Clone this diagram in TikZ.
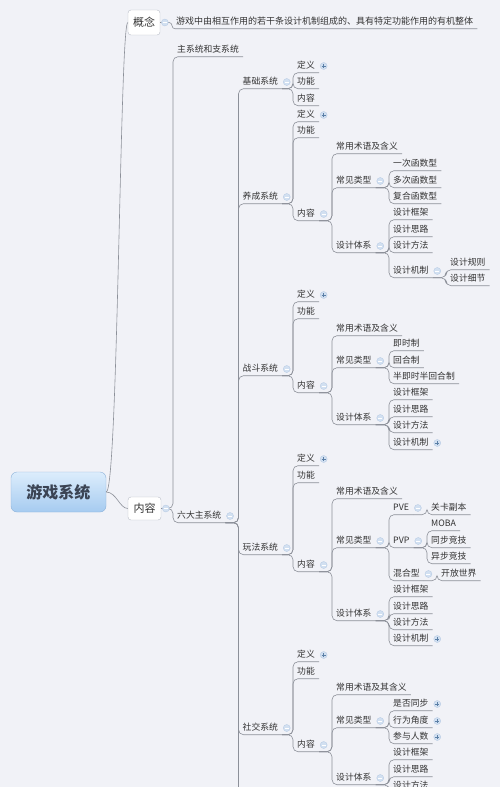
\documentclass[tikz,border=0pt]{standalone}
\usepackage{fontspec}
\setmainfont{Noto Sans CJK SC}
\usetikzlibrary{positioning}
\definecolor{bg}{HTML}{F1F2F7}
\definecolor{ink}{HTML}{333333}
\definecolor{linkgray}{HTML}{8C9099}
\definecolor{foldfill}{HTML}{D2E0F1}
\definecolor{foldline}{HTML}{B3C8E2}
\definecolor{foldsign}{HTML}{5B7FA6}
\definecolor{rootlight}{HTML}{DCEDFC}
\definecolor{rootdark}{HTML}{A6CBF0}
\definecolor{rootline}{HTML}{8DB2D9}
\definecolor{rootink}{HTML}{3B4454}
\definecolor{boxline}{HTML}{B9BEC7}

\tikzset{
  topic/.style={anchor=west, inner xsep=4pt, inner ysep=2.5pt, text height=6.5pt, text depth=1.5pt, text=ink, font=\fontsize{8.8}{10}\selectfont},
  box/.style={draw=boxline, fill=white, rounded corners=3pt, text=ink, inner sep=1pt, font=\fontsize{11}{13}\selectfont},
  rootbox/.style={draw=rootline, rounded corners=6pt, top color=rootlight, bottom color=rootdark, text=rootink, minimum width=95pt, minimum height=40pt, font=\fontsize{16}{18}\selectfont\bfseries},
  link/.style={draw=linkgray, line width=0.6pt, rounded corners=5pt},
  fold/.style={circle, fill=foldfill, draw=foldline, line width=0.3pt, minimum size=7pt, inner sep=0pt},
  foldm/.style={fold, path picture={\draw[white, line width=0.7pt] ([xshift=-2pt]path picture bounding box.center) -- ([xshift=2pt]path picture bounding box.center);}},
  foldp/.style={fold, path picture={\draw[foldsign, line width=0.7pt] ([xshift=-2pt]path picture bounding box.center) -- ([xshift=2pt]path picture bounding box.center) ([yshift=-2pt]path picture bounding box.center) -- ([yshift=2pt]path picture bounding box.center);}},
}

\begin{document}
\begin{tikzpicture}[x=1pt, y=-1pt]
  \useasboundingbox (0,0) rectangle (500,787);
  \fill[bg] (0,0) rectangle (500,787);
  \clip (0,0) rectangle (500,787);

  % root and first level
  \node[rootbox] (youxi) at (58.5,492) {游戏系统};
  \node[box, minimum width=32pt, minimum height=25pt] (gainian) at (144,22.5) {概念};
  \node[box, minimum width=33pt, minimum height=23pt] (neirong) at (144.5,508.5) {内容};
  \node[topic, font=\fontsize{9}{10}\selectfont] (miaoshu) at (172,22) {游戏中由相互作用的若干条设计机制组成的、具有特定功能作用的有机整体};
  \node[topic] (zhuzhi) at (173,50) {主系统和支系统};
  \node[topic] (liuda) at (173,516) {六大主系统};
  \coordinate (liuda-more) at (238.5,800);

  % six main systems
  \node[topic] (jc) at (238.5,82) {基础系统};
  \node[topic] (yc) at (238.5,197) {养成系统};
  \node[topic] (zd) at (238.5,369) {战斗系统};
  \node[topic] (wf) at (238.5,548) {玩法系统};
  \node[topic] (sj) at (238.5,728) {社交系统};

  % 基础系统
  \node[topic] (jc-dy) at (293,66) {定义};
  \node[topic] (jc-gn) at (293,82) {功能};
  \node[topic] (jc-nr) at (293,99) {内容};

  % 养成系统
  \node[topic] (yc-dy) at (293,115) {定义};
  \node[topic] (yc-gn) at (293,131) {功能};
  \node[topic] (yc-nr) at (293,214) {内容};
  \node[topic] (yc-sy) at (332,147) {常用术语及含义};
  \node[topic] (yc-lx) at (332,181) {常见类型};
  \node[topic] (yc-tx) at (332,246) {设计体系};
  \node[topic] (yc-lx1) at (389,164) {一次函数型};
  \node[topic] (yc-lx2) at (389,181) {多次函数型};
  \node[topic] (yc-lx3) at (389,197) {复合函数型};
  \node[topic] (yc-tx1) at (389,213) {设计框架};
  \node[topic] (yc-tx2) at (389,230) {设计思路};
  \node[topic] (yc-tx3) at (389,246) {设计方法};
  \node[topic] (yc-tx4) at (389,271) {设计机制};
  \node[topic] (yc-gz) at (446,263) {设计规则};
  \node[topic] (yc-xj) at (446,279) {设计细节};

  % 战斗系统
  \node[topic] (zd-dy) at (293,295) {定义};
  \node[topic] (zd-gn) at (293,312) {功能};
  \node[topic] (zd-nr) at (293,386) {内容};
  \node[topic] (zd-sy) at (332,329) {常用术语及含义};
  \node[topic] (zd-lx) at (332,361) {常见类型};
  \node[topic] (zd-tx) at (332,418) {设计体系};
  \node[topic] (zd-lx1) at (389,344) {即时制};
  \node[topic] (zd-lx2) at (389,361) {回合制};
  \node[topic] (zd-lx3) at (389,377) {半即时半回合制};
  \node[topic] (zd-tx1) at (389,393) {设计框架};
  \node[topic] (zd-tx2) at (389,410) {设计思路};
  \node[topic] (zd-tx3) at (389,426) {设计方法};
  \node[topic] (zd-tx4) at (389,443) {设计机制};

  % 玩法系统
  \node[topic] (wf-dy) at (293,459) {定义};
  \node[topic] (wf-gn) at (293,476) {功能};
  \node[topic] (wf-nr) at (293,565) {内容};
  \node[topic] (wf-sy) at (332,492) {常用术语及含义};
  \node[topic] (wf-lx) at (332,541) {常见类型};
  \node[topic] (wf-tx) at (332,614) {设计体系};
  \node[topic] (wf-pve) at (389,508) {PVE};
  \node[topic] (wf-pvp) at (389,541) {PVP};
  \node[topic] (wf-hh) at (389,574) {混合型};
  \node[topic] (wf-gk) at (427,508) {关卡副本};
  \node[topic] (wf-moba) at (427,524) {MOBA};
  \node[topic] (wf-tb) at (427,541) {同步竞技};
  \node[topic] (wf-yb) at (427,557) {异步竞技};
  \node[topic] (wf-kf) at (437,574) {开放世界};
  \node[topic] (wf-tx1) at (389,590) {设计框架};
  \node[topic] (wf-tx2) at (389,607) {设计思路};
  \node[topic] (wf-tx3) at (389,623) {设计方法};
  \node[topic] (wf-tx4) at (389,639) {设计机制};

  % 社交系统
  \node[topic] (sj-dy) at (293,655) {定义};
  \node[topic] (sj-gn) at (293,672) {功能};
  \node[topic] (sj-nr) at (293,745) {内容};
  \node[topic] (sj-sy) at (332,688) {常用术语及其含义};
  \node[topic] (sj-lx) at (332,721) {常见类型};
  \node[topic] (sj-tx) at (332,778) {设计体系};
  \node[topic] (sj-lx1) at (389,704) {是否同步};
  \node[topic] (sj-lx2) at (389,721) {行为角度};
  \node[topic] (sj-lx3) at (389,737) {参与人数};
  \node[topic] (sj-tx1) at (389,753) {设计框架};
  \node[topic] (sj-tx2) at (389,770) {设计思路};
  \node[topic] (sj-tx3) at (389,786) {设计方法};

  % connectors
  \draw[link] (youxi.east) .. controls +(12,0) and +(-8,0) .. (gainian.west);
  \draw[link] (youxi.east) .. controls +(10,0) and +(-8,0) .. (neirong.west);
  \draw[link, rounded corners=3pt] (gainian.east) -| (miaoshu.south west) -- (miaoshu.south east);
  \draw[link] (neirong.east) -| (zhuzhi.south west) -- (zhuzhi.south east);
  \draw[link] (neirong.east) -| (liuda.south west) -- (liuda.south east);
  \draw[link] (liuda.south east) -| (liuda-more);
  \foreach \p/\c in {liuda/jc, liuda/yc, liuda/zd, liuda/wf, liuda/sj,
      jc/jc-dy, jc/jc-gn, jc/jc-nr,
      yc/yc-dy, yc/yc-gn, yc/yc-nr, yc-nr/yc-sy, yc-nr/yc-lx, yc-nr/yc-tx,
      yc-lx/yc-lx1, yc-lx/yc-lx2, yc-lx/yc-lx3,
      yc-tx/yc-tx1, yc-tx/yc-tx2, yc-tx/yc-tx3, yc-tx/yc-tx4, yc-tx4/yc-gz, yc-tx4/yc-xj,
      zd/zd-dy, zd/zd-gn, zd/zd-nr, zd-nr/zd-sy, zd-nr/zd-lx, zd-nr/zd-tx,
      zd-lx/zd-lx1, zd-lx/zd-lx2, zd-lx/zd-lx3,
      zd-tx/zd-tx1, zd-tx/zd-tx2, zd-tx/zd-tx3, zd-tx/zd-tx4,
      wf/wf-dy, wf/wf-gn, wf/wf-nr, wf-nr/wf-sy, wf-nr/wf-lx, wf-nr/wf-tx,
      wf-lx/wf-pve, wf-lx/wf-pvp, wf-lx/wf-hh, wf-pve/wf-gk,
      wf-pvp/wf-moba, wf-pvp/wf-tb, wf-pvp/wf-yb, wf-hh/wf-kf,
      wf-tx/wf-tx1, wf-tx/wf-tx2, wf-tx/wf-tx3, wf-tx/wf-tx4,
      sj/sj-dy, sj/sj-gn, sj/sj-nr, sj-nr/sj-sy, sj-nr/sj-lx, sj-nr/sj-tx,
      sj-lx/sj-lx1, sj-lx/sj-lx2, sj-lx/sj-lx3,
      sj-tx/sj-tx1, sj-tx/sj-tx2, sj-tx/sj-tx3}
    \draw[link] (\p.south east) -| (\c.south west) -- (\c.south east);

  % fold markers
  \foreach \n in {gainian, neirong, liuda, jc, yc, yc-nr, yc-lx, yc-tx, yc-tx4,
      zd, zd-nr, zd-lx, zd-tx, wf, wf-nr, wf-lx, wf-pve, wf-pvp, wf-hh, wf-tx,
      sj, sj-nr, sj-lx, sj-tx}
    \node[foldm, right=1pt of \n] (\n-f) {};
  \foreach \n in {jc-dy, yc-dy, zd-dy, wf-dy, sj-dy, zd-tx4, wf-tx4, sj-lx1, sj-lx2, sj-lx3}
    \node[foldp, right=1pt of \n] (\n-f) {};
\end{tikzpicture}
\end{document}
